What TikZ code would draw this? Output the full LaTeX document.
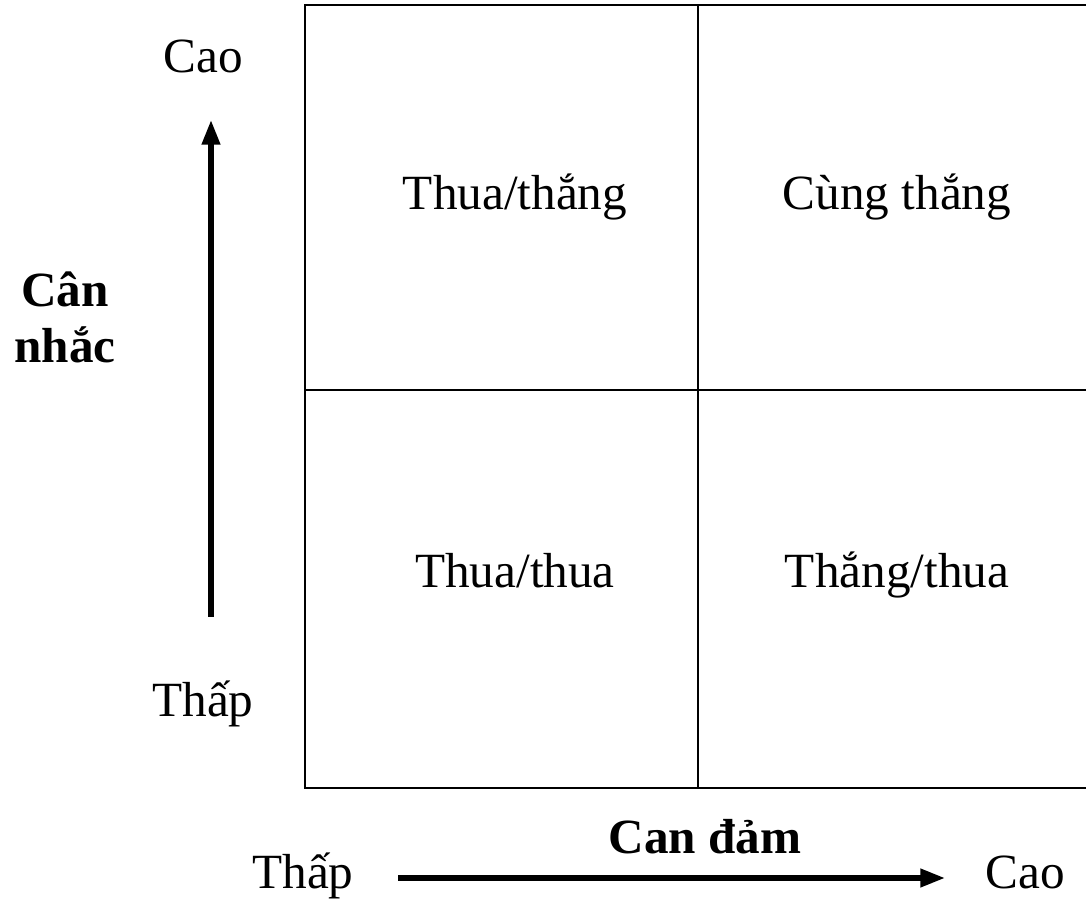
\documentclass[tikz,border=0pt]{standalone}
\usepackage{fontspec}
\setmainfont{Liberation Serif}
\usetikzlibrary{arrows.meta}
\tikzset{
  lbl/.style={font=\fontsize{14}{17}\selectfont, anchor=base},
  axlbl/.style={font=\fontsize{14}{16}\selectfont\bfseries, align=center, anchor=base},
  axarrow/.style={line width=1.5pt, -{Triangle[length=7pt, width=5pt]}}
}
\begin{document}
\begin{tikzpicture}
\useasboundingbox (0,0) rectangle (10.86,8.98);
% grid
\coordinate (tl) at (3.05,8.93);
\coordinate (bl) at (3.05,1.10);
\coordinate (tr) at (10.86,8.93);
\coordinate (br) at (10.86,1.10);
\coordinate (mt) at (6.98,8.93);
\coordinate (mb) at (6.98,1.10);
\coordinate (ml) at (3.05,5.08);
\coordinate (mr) at (10.86,5.08);
\draw[line width=0.7pt] (tr) -- (tl) -- (bl) -- (br);
\draw[line width=0.7pt] (mt) -- (mb);
\draw[line width=0.7pt] (ml) -- (mr);
\node[lbl] (q1) at (5.15,6.88) {Thua/thắng};
\node[lbl] (q2) at (8.97,6.88) {Cùng thắng};
\node[lbl] (q3) at (5.15,3.10) {Thua/thua};
\node[lbl] (q4) at (8.97,3.10) {Thắng/thua};
% vertical axis
\node[lbl] (vhigh) at (2.03,8.25) {Cao};
\node[lbl] (vlow) at (2.03,1.82) {Thấp};
\node[axlbl] (vname) at (0.65,5.35) {Cân\\nhắc};
\coordinate (vs) at (2.11,2.81);
\coordinate (ve) at (2.11,7.78);
\draw[axarrow] (vs) -- (ve);
% horizontal axis
\node[axlbl] (hname) at (7.05,0.45) {Can đảm};
\node[lbl] (hlow) at (3.03,0.10) {Thấp};
\node[lbl] (hhigh) at (10.25,0.10) {Cao};
\coordinate (hs) at (3.98,0.20);
\coordinate (he) at (9.45,0.20);
\draw[axarrow] (hs) -- (he);
\end{tikzpicture}
\end{document}
